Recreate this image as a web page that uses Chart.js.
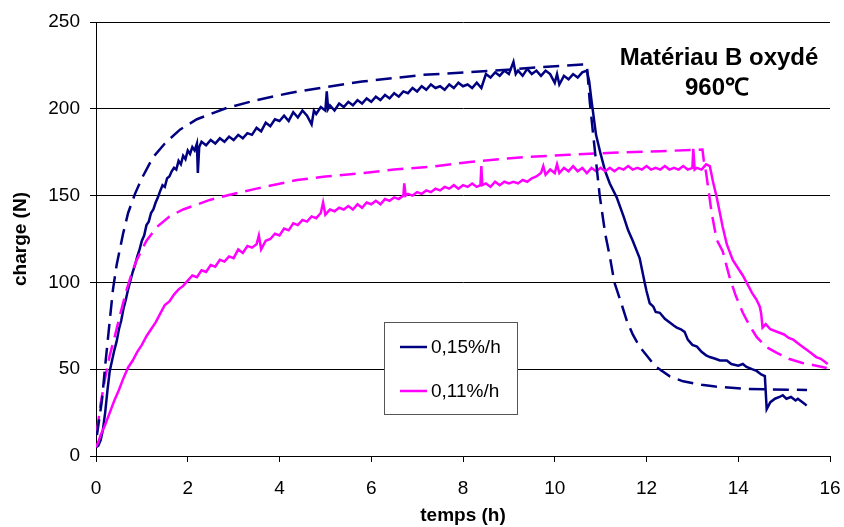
<!DOCTYPE html>
<html>
<head>
<meta charset="utf-8">
<script src="https://cdn.jsdelivr.net/npm/chart.js@4/dist/chart.umd.min.js"></script>
<style>
  html, body { margin: 0; padding: 0; background: #fff; }
  #wrap { width: 844px; height: 527px; }
</style>
</head>
<body>
<div id="wrap"><canvas id="chart" width="844" height="527"></canvas></div>
<script>
// --- data: [temps (h), charge (N)] ---
const xTicks = [0, 2, 4, 6, 8, 10, 12, 14, 16];
const yTicks = [0, 50, 100, 150, 200, 250];
const labels = ['0,15%/h', '0,11%/h'];
const titleLines = ['Matériau B oxydé', '960℃'];

// measured, 0,15%/h
const blueMeasured = [
  [0,5],[0.05,6],[0.1,9],[0.15,15],[0.2,25],[0.25,38],[0.3,49],[0.35,55],[0.4,61],[0.45,66],
  [0.5,73],[0.55,78],[0.6,85],[0.65,90],[0.7,96],[0.74,100],[0.8,106],[0.85,110],[0.9,115],[0.95,119],
  [1.0,124],[1.05,127],[1.1,133],[1.15,135],[1.2,140],[1.25,142],[1.3,146],[1.35,149],[1.39,152],[1.45,156],
  [1.5,155],[1.55,160],[1.6,161],[1.65,164],[1.7,166],[1.75,165],[1.8,170],[1.85,168],[1.9,173],[1.95,171],
  [2.0,176],[2.05,174],[2.1,178],[2.15,176],[2.2,180],[2.22,163],[2.25,178],[2.3,181],[2.4,179],[2.5,182],
  [2.6,180],[2.7,183],[2.8,181],[2.9,184],[3.0,182],[3.1,185],[3.2,183],[3.3,186],[3.4,185],[3.5,189],
  [3.6,187],[3.7,192],[3.8,190],[3.9,194],[4.0,193],[4.1,196],[4.2,193],[4.3,198],[4.4,195],[4.5,199],
  [4.6,196],[4.7,191],[4.75,199],[4.8,197],[4.9,201],[5.0,199],[5.03,210],[5.06,200],[5.1,202],[5.2,199],
  [5.3,203],[5.4,201],[5.5,204],[5.6,202],[5.7,205],[5.8,203],[5.9,206],[6.0,204],[6.1,207],[6.2,205],
  [6.3,208],[6.4,206],[6.5,209],[6.6,207],[6.7,210],[6.8,209],[6.9,212],[7.0,210],[7.1,213],[7.2,211],
  [7.3,214],[7.4,212],[7.5,213],[7.6,211],[7.7,214],[7.8,212],[7.9,215],[8.0,213],[8.1,214],[8.2,212],
  [8.3,215],[8.4,212],[8.5,220],[8.6,218],[8.7,221],[8.8,219],[8.9,222],[9.0,220],[9.1,227],[9.15,220],
  [9.2,222],[9.3,219],[9.4,223],[9.5,220],[9.6,222],[9.7,219],[9.8,222],[9.9,220],[10.0,215],[10.05,220],
  [10.1,214],[10.2,219],[10.3,217],[10.4,220],[10.5,218],[10.6,221],[10.7,222],[10.75,216],[10.8,205],[10.9,185],
  [11.0,174],[11.1,164],[11.2,157],[11.35,149],[11.5,138],[11.6,130],[11.7,124],[11.85,114],[11.96,100],[12.0,95],
  [12.07,88],[12.15,86],[12.2,83],[12.29,82.5],[12.4,79],[12.5,77],[12.6,75],[12.66,74],[12.75,73],[12.83,71.5],
  [12.9,67],[13.0,64],[13.1,63],[13.2,60],[13.3,58],[13.38,57],[13.5,56],[13.6,55],[13.75,55],[13.85,53],
  [14.0,52],[14.1,53],[14.18,51.3],[14.3,50],[14.4,49],[14.5,47],[14.58,46],[14.62,27],[14.7,31],[14.8,33],
  [14.9,34],[14.97,35],[15.05,33],[15.15,34],[15.25,32],[15.3,33],[15.4,31],[15.45,30],[15.49,29]
];

// model, 0,15%/h (dashed)
const blueModel = [
  [0.02,12],[0.13,32],[0.2,52],[0.3,78],[0.37,96],[0.45,110],[0.59,128],[0.7,140],[0.85,151],[1.0,160],
  [1.24,172],[1.5,180],[1.83,188],[2.2,194],[2.85,200.5],[3.5,205],[4.2,209],[5.0,212.5],[5.8,215.7],[7.1,219.5],
  [8.7,222],[9.7,224],[10.6,225.5],[10.7,225.5],[10.76,205],[10.85,182],[10.98,150],[11.1,128],[11.2,115],[11.3,100],
  [11.45,88],[11.57,78],[11.7,70],[11.85,63],[12.0,58],[12.2,51.5],[12.5,46],[12.8,43],[13.2,41],[13.5,40],
  [14.2,38.6],[15.5,38]
];

// measured, 0,11%/h
const pinkMeasured = [
  [0,5],[0.05,8],[0.1,12],[0.2,18],[0.3,25],[0.4,32],[0.5,38],[0.6,45],[0.7,51],[0.8,55],
  [0.9,60],[1.0,64],[1.1,69],[1.2,73],[1.3,77],[1.4,82],[1.5,87],[1.6,89],[1.7,93],[1.8,96],
  [1.9,98],[2.0,101],[2.1,104],[2.2,103],[2.3,107],[2.4,106],[2.5,110],[2.6,109],[2.7,113],[2.8,112],
  [2.9,115],[3.0,114],[3.1,119],[3.2,117],[3.3,121],[3.4,120],[3.5,122],[3.55,127],[3.6,119],[3.7,124],
  [3.8,125],[3.9,128],[4.0,127],[4.1,131],[4.2,130],[4.3,134],[4.4,133],[4.5,136],[4.6,135],[4.7,138],
  [4.8,137],[4.9,140],[4.95,146],[5.0,139],[5.1,142],[5.2,141],[5.3,143],[5.4,142],[5.5,144],[5.6,142],
  [5.7,145],[5.8,143],[5.9,146],[6.0,145],[6.1,147],[6.2,145],[6.3,148],[6.4,147],[6.5,149],[6.6,148],
  [6.7,150],[6.72,157],[6.75,150],[6.8,151],[6.9,150],[7.0,152],[7.1,151],[7.2,153],[7.3,152],[7.4,154],
  [7.5,153],[7.6,155],[7.7,154],[7.8,156],[7.9,154],[8.0,156],[8.1,155],[8.2,157],[8.3,155],[8.38,156],
  [8.4,167],[8.42,156],[8.5,157],[8.6,155],[8.7,158],[8.8,156],[8.9,158],[9.0,157],[9.1,158],[9.2,157],
  [9.3,159],[9.4,158],[9.5,160],[9.6,161],[9.7,163],[9.75,167],[9.8,162],[9.9,165],[10.0,163],[10.05,168],
  [10.1,163],[10.2,166],[10.3,164],[10.4,167],[10.5,164],[10.6,166],[10.7,163],[10.8,166],[10.9,164],[11.0,166],
  [11.1,164],[11.2,166],[11.3,164],[11.4,166],[11.5,165],[11.6,167],[11.7,165],[11.8,166],[11.9,165],[12.0,167],
  [12.1,165],[12.2,166],[12.3,165],[12.4,167],[12.5,165],[12.6,166],[12.7,165],[12.8,167],[12.9,165],[13.0,166],
  [13.02,177],[13.05,165],[13.1,166],[13.2,165],[13.3,168],[13.38,167],[13.45,158],[13.53,149],[13.6,140],[13.66,132],
  [13.75,122],[13.88,113],[14.0,108],[14.1,104],[14.18,100],[14.3,94],[14.4,90],[14.47,86],[14.5,82],[14.53,74],
  [14.6,76],[14.7,73],[14.8,72],[14.9,71],[15.0,70],[15.1,68],[15.2,67],[15.3,65],[15.4,63],[15.5,61],
  [15.6,59],[15.7,57],[15.8,56],[15.9,54],[15.95,53]
];

// model, 0,11%/h (dashed)
const pinkModel = [
  [0.02,14],[0.1,30],[0.2,45],[0.3,58],[0.41,69],[0.55,84],[0.67,96],[0.8,107],[0.89,113],[1.1,124],
  [1.33,132],[1.6,138],[1.9,142],[2.48,147.5],[2.92,150.5],[3.5,154],[4.38,159],[5.0,161],[5.82,163],[6.5,165],
  [7.28,166.6],[8.2,169.5],[9.24,172],[10.3,173.5],[11.26,174.7],[12.3,175.6],[13.22,176.5],[13.25,170],[13.3,163],[13.42,140],
  [13.53,124.6],[13.66,118],[13.81,103],[13.95,92],[14.1,82.5],[14.25,75],[14.4,68.6],[14.6,63],[14.84,59.4],[15.1,56],
  [15.4,53.6],[15.7,52],[15.93,50.7]
];

const NAVY = '#000080';
const PINK = '#FF00FF';
const FONT = 'Arial, "Liberation Sans", sans-serif';

const toXY = arr => arr.map(p => ({ x: p[0], y: p[1] }));

// custom legend box + title, drawn on the canvas
const annotations = {
  id: 'annotations',
  afterDraw(chart) {
    const ctx = chart.ctx;
    ctx.save();
    // title
    ctx.fillStyle = '#000';
    ctx.font = 'bold 24px ' + FONT;
    ctx.textAlign = 'center';
    ctx.textBaseline = 'middle';
    ctx.fillText(titleLines[0], 719, 58);
    ctx.fillText(titleLines[1], 717, 88);

    // legend
    ctx.fillStyle = '#fff';
    ctx.fillRect(384, 322, 133, 92);
    ctx.strokeStyle = '#555';
    ctx.lineWidth = 1;
    ctx.strokeRect(384.5, 322.5, 133, 92);
    const rows = [347, 391];
    const cols = [NAVY, PINK];
    ctx.font = '19px ' + FONT;
    ctx.textAlign = 'left';
    rows.forEach((y, i) => {
      ctx.strokeStyle = cols[i];
      ctx.lineWidth = 2.5;
      ctx.beginPath();
      ctx.moveTo(400, y);
      ctx.lineTo(427, y);
      ctx.stroke();
      ctx.fillStyle = '#000';
      ctx.fillText(labels[i], 431, y + 1);
    });
    ctx.restore();
  }
};

new Chart(document.getElementById('chart'), {
  type: 'scatter',
  data: {
    datasets: [
      { label: labels[0] + ' modèle', data: toXY(blueModel), borderColor: NAVY, borderDash: [16, 8], borderWidth: 2.5 },
      { label: labels[1] + ' modèle', data: toXY(pinkModel), borderColor: PINK, borderDash: [16, 8], borderWidth: 2.5 },
      { label: labels[1], data: toXY(pinkMeasured), borderColor: PINK, borderWidth: 2.5 },
      { label: labels[0], data: toXY(blueMeasured), borderColor: NAVY, borderWidth: 2.5 }
    ].map(d => Object.assign(d, { showLine: true, pointRadius: 0, fill: false, tension: 0 }))
  },
  options: {
    responsive: false,
    animation: false,
    layout: { padding: { top: 22, right: 14, left: 0, bottom: 0 } },
    plugins: { legend: { display: false }, tooltip: { enabled: false } },
    scales: {
      x: {
        type: 'linear',
        min: xTicks[0],
        max: xTicks[xTicks.length - 1],
        afterBuildTicks: s => { s.ticks = xTicks.map(v => ({ value: v })); },
        afterFit: s => { s.height = 71; s.paddingLeft = 0; s.paddingRight = 0; },
        grid: { drawOnChartArea: false, color: '#000', tickLength: 6 },
        border: { color: '#000', width: 1 },
        ticks: { color: '#000', font: { family: FONT, size: 19 }, padding: 15 },
        title: { display: true, text: 'temps (h)', color: '#000', font: { family: FONT, size: 19, weight: 'bold', lineHeight: 1.2 }, padding: 0 }
      },
      y: {
        min: yTicks[0],
        max: yTicks[yTicks.length - 1],
        afterBuildTicks: s => { s.ticks = yTicks.map(v => ({ value: v })); },
        afterFit: s => { s.width = 96; s.paddingTop = 0; s.paddingBottom = 0; },
        grid: { color: '#000', tickLength: 6 },
        border: { color: '#000', width: 1 },
        ticks: { color: '#000', font: { family: FONT, size: 19 }, padding: 10 },
        title: { display: true, text: 'charge (N)', color: '#000', font: { family: FONT, size: 19, weight: 'bold', lineHeight: 1.2 }, padding: { top: 9 } }
      }
    }
  },
  plugins: [annotations]
});
</script>
</body>
</html>
